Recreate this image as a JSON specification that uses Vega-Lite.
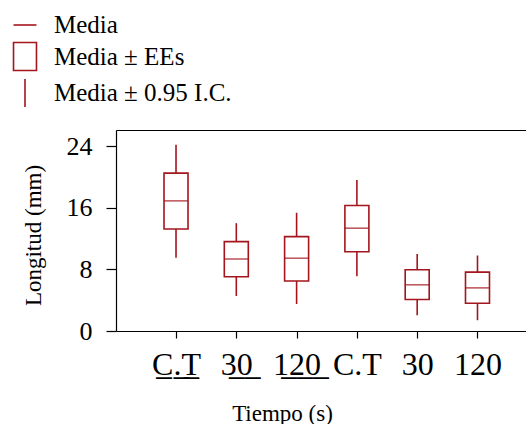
{
  "$schema": "https://vega.github.io/schema/vega-lite/v6.json",
  "autosize": {"type": "none"},
  "padding": {"left": 116, "top": 130, "right": 0, "bottom": 93},
  "width": 410,
  "height": 201,
  "background": "white",
  "config": {
    "view": {"stroke": null},
    "font": "Liberation Serif",
    "axis": {"grid": false, "domainColor": "black", "tickColor": "black", "labelColor": "black", "titleColor": "black", "labelFont": "Liberation Serif", "titleFont": "Liberation Serif", "titleFontWeight": "normal", "domainWidth": 1.2, "tickWidth": 1.2}
  },
  "datasets": {
    "grupos": [
      {"tiempo": "C\u0332.\u0332T\u0332", "ic_inf": 9.5, "ee_inf": 13.25, "media": 16.9, "ee_sup": 20.5, "ic_sup": 24.2},
      {"tiempo": "3\u03320\u0332", "ic_inf": 4.55, "ee_inf": 7.05, "media": 9.35, "ee_sup": 11.6, "ic_sup": 14.0},
      {"tiempo": "1\u03322\u03320\u0332", "ic_inf": 3.5, "ee_inf": 6.5, "media": 9.45, "ee_sup": 12.25, "ic_sup": 15.35},
      {"tiempo": "C.T", "ic_inf": 7.1, "ee_inf": 10.3, "media": 13.35, "ee_sup": 16.3, "ic_sup": 19.6},
      {"tiempo": "30", "ic_inf": 2.05, "ee_inf": 4.1, "media": 6.0, "ee_sup": 7.95, "ic_sup": 10.0},
      {"tiempo": "120", "ic_inf": 1.4, "ee_inf": 3.6, "media": 5.6, "ee_sup": 7.65, "ic_sup": 9.8}
    ],
    "leyenda": [
      {"elemento": "Media"},
      {"elemento": "Media ± EEs"},
      {"elemento": "Media ± 0.95 I.C."}
    ]
  },
  "resolve": {"axis": {"x": "independent"}},
  "layer": [
    {
      "data": {"name": "grupos"},
      "mark": {"type": "rule", "color": "#a3161d", "strokeWidth": 1.6},
      "encoding": {
        "x": {
          "field": "tiempo", "type": "nominal", "sort": null,
          "scale": {"type": "point", "padding": 0.9, "align": 0.553},
          "axis": {"orient": "bottom", "title": "Tiempo (s)", "labelAngle": 0, "labelFont": "Liberation Serif", "labelFontSize": 32, "labelBaseline": "alphabetic", "labelPadding": 36, "tickSize": 7, "titleFont": "Liberation Serif", "titleFontSize": 23, "titleX": 166, "titleY": 89, "titleBaseline": "alphabetic", "titleAnchor": null, "titleAlign": "center"}
        },
        "y": {
          "field": "ic_inf", "type": "quantitative",
          "scale": {"domain": [0, 26.1], "nice": false, "zero": true},
          "axis": {"title": "Longitud (mm)", "values": [0, 8, 16, 24], "labelFont": "Liberation Serif", "labelFontSize": 26, "tickSize": 10, "labelPadding": 14, "labelBaseline": "middle", "titleFont": "Liberation Serif", "titleFontSize": 23, "titleX": -83, "titleY": 105, "titleAngle": -90, "titleAlign": "center", "titleBaseline": "middle", "titleAnchor": null}
        },
        "y2": {"field": "ic_sup"}
      }
    },
    {
      "data": {"name": "grupos"},
      "mark": {"type": "bar", "fill": "white", "stroke": "#a3161d", "strokeWidth": 1.6, "size": 24},
      "encoding": {
        "x": {
          "field": "tiempo", "type": "nominal", "sort": null,
          "axis": {"orient": "top", "labels": false, "ticks": false, "title": null, "domainColor": "black"}
        },
        "y": {"field": "ee_inf", "type": "quantitative"},
        "y2": {"field": "ee_sup"}
      }
    },
    {
      "data": {"name": "grupos"},
      "mark": {"type": "tick", "color": "#a3161d", "thickness": 1.6, "size": 24},
      "encoding": {
        "x": {"field": "tiempo", "type": "nominal", "sort": null, "axis": null},
        "y": {"field": "media", "type": "quantitative"}
      }
    },
    {
      "data": {"name": "leyenda"},
      "mark": {"type": "point", "opacity": 0, "filled": false, "color": "#a3161d"},
      "encoding": {
        "shape": {
          "field": "elemento", "type": "nominal",
          "scale": {"domain": ["Media", "Media ± EEs", "Media ± 0.95 I.C."], "range": ["M-0.82,0H0.82", "M-0.82,-1H0.82V1H-0.82Z", "M0,-1V1"]},
          "legend": {"title": null, "orient": "none", "legendX": -106, "legendY": -120, "padding": 0, "symbolSize": 784, "symbolStrokeWidth": 1.6, "symbolStrokeColor": "#a3161d", "symbolFillColor": "white", "symbolOpacity": 1, "labelFont": "Liberation Serif", "labelFontSize": 25, "labelColor": "black", "labelOffset": 14, "rowPadding": 0.5, "labelLimit": 300}
        }
      }
    }
  ]
}
